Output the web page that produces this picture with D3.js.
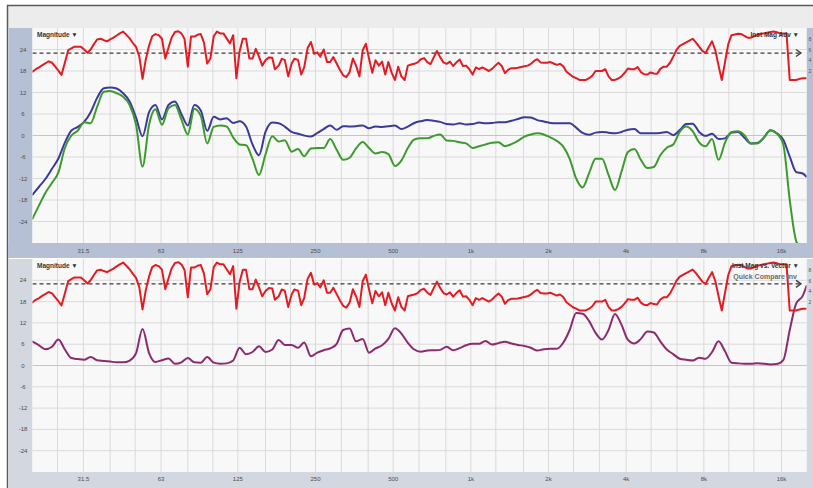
<!DOCTYPE html>
<html>
<head>
<meta charset="utf-8">
<script src="https://cdn.jsdelivr.net/npm/d3@7"></script>
<style>
  html, body { margin: 0; padding: 0; background: #fff; }
  svg { display: block; font-family: "Liberation Sans", Arial, sans-serif; }
</style>
</head>
<body>
<svg id="chart" width="813" height="488"></svg>
<script>
// 1/24-octave frequency grid (Hz) for the detailed magnitude trace
const freqFine = [
  20.0, 20.6, 21.2, 21.8, 22.4, 23.1, 23.8, 24.5, 25.2, 25.9, 26.7, 27.5, 28.3, 29.1, 30.0, 30.8, 31.7, 32.7, 33.6, 34.6, 35.6, 36.7, 37.8, 38.9,
  40.0, 41.2, 42.4, 43.6, 44.9, 46.2, 47.6, 49.0, 50.4, 51.9, 53.4, 55.0, 56.6, 58.2, 59.9, 61.7, 63.5, 65.4, 67.3, 69.2, 71.3, 73.4, 75.5, 77.7,
  80.0, 82.3, 84.8, 87.2, 89.8, 92.4, 95.1, 97.9, 100.8, 103.7, 106.8, 109.9, 113.1, 116.5, 119.9, 123.4, 127.0, 130.7, 134.5, 138.5, 142.5, 146.7, 151.0, 155.4,
  160, 165, 170, 174, 180, 185, 190, 196, 202, 207, 214, 220, 226, 233, 240, 247, 254, 261, 269, 277, 285, 293, 302, 311,
  320, 329, 339, 349, 359, 370, 381, 392, 403, 415, 427, 440, 453, 466, 479, 494, 508, 523, 538, 554, 570, 587, 604, 622,
  640, 659, 678, 698, 718, 739, 761, 783, 806, 830, 854, 879, 905, 932, 959, 987, 1016, 1046, 1076, 1108, 1140, 1174, 1208, 1244,
  1280, 1318, 1356, 1396, 1437, 1479, 1522, 1567, 1613, 1660, 1709, 1759, 1810, 1863, 1918, 1974, 2032, 2091, 2153, 2216, 2281, 2348, 2416, 2487,
  2560, 2635, 2712, 2792, 2874, 2958, 3044, 3134, 3225, 3320, 3417, 3517, 3620, 3727, 3836, 3948, 4064, 4183, 4305, 4432, 4561, 4695, 4833, 4974,
  5120, 5270, 5425, 5583, 5747, 5916, 6089, 6267, 6451, 6640, 6834, 7035, 7241, 7453, 7671, 7896, 8127, 8365, 8611, 8863, 9123, 9390, 9665, 9949,
  10240, 10540, 10849, 11167, 11494, 11831, 12178, 12535, 12902, 13280, 13669, 14069, 14482, 14906, 15343, 15792, 16255, 16731, 17222, 17726, 18246, 18780, 19331, 19897
];

// Measured magnitude (dB), red trace, shown in both panels
const redLevel = [
  17.8, 18.5, 19.0, 19.6, 20.1, 20.7, 20.3, 19.2, 18.1, 16.9, 20.3, 23.8, 24.3, 24.8, 24.8, 24.8, 24.0, 23.1, 24.0, 25.5, 26.8, 27.0, 26.6, 26.3,
  26.8, 27.3, 27.9, 28.5, 29.0, 28.1, 27.1, 25.8, 24.7, 22.0, 15.8, 21.3, 25.1, 27.7, 28.3, 28.0, 27.0, 21.5, 24.5, 27.3, 28.9, 29.1, 28.5, 26.9,
  19.2, 27.6, 27.6, 28.1, 28.3, 25.9, 20.1, 21.5, 27.7, 29.0, 28.5, 28.5, 27.1, 25.7, 28.0, 16.0, 23.5, 27.0, 27.0, 21.5, 21.5, 24.2, 22.0, 19.5,
  21.0, 21.8, 21.7, 18.5, 19.5, 21.4, 21.1, 16.5, 20.0, 21.4, 21.1, 17.0, 19.0, 24.4, 26.1, 22.8, 23.2, 22.0, 24.0, 20.5, 20.5, 21.9, 20.1, 18.3,
  16.8, 16.3, 17.7, 21.5, 19.5, 16.5, 23.8, 25.6, 21.5, 17.5, 21.0, 19.5, 20.6, 17.0, 20.5, 17.4, 15.5, 19.2, 16.5, 15.5, 19.5, 19.8, 20.0, 20.4,
  21.3, 21.6, 20.5, 19.9, 21.8, 23.6, 21.8, 20.4, 20.0, 20.6, 19.4, 20.4, 21.2, 19.4, 19.5, 18.5, 17.0, 19.0, 18.5, 19.0, 18.5, 18.0, 18.6, 19.5,
  20.3, 19.4, 17.4, 18.4, 18.8, 18.8, 18.9, 19.1, 19.3, 19.5, 20.0, 20.8, 21.3, 20.4, 20.3, 20.3, 20.5, 20.1, 19.7, 20.0, 19.3, 17.8, 17.1, 16.4,
  16.0, 15.5, 15.5, 15.5, 16.0, 16.7, 18.0, 18.0, 18.0, 18.5, 16.5, 15.5, 15.5, 15.9, 16.5, 17.5, 18.7, 18.5, 18.5, 19.1, 17.7, 17.1, 17.0, 17.6,
  17.3, 17.2, 18.6, 19.2, 19.2, 20.3, 22.0, 23.9, 25.0, 25.5, 26.0, 26.5, 27.0, 26.0, 24.8, 23.6, 23.0, 24.7, 26.3, 23.8, 19.5, 15.5, 20.5, 25.5,
  28.0, 28.2, 28.4, 28.3, 27.8, 27.3, 27.3, 27.7, 28.1, 28.3, 28.5, 28.7, 28.9, 29.0, 28.8, 28.5, 28.5, 28.5, 15.5, 15.5, 15.5, 15.8, 16.0, 16.0
];

// 1/12-octave frequency grid (Hz) for the smoothed traces
const freqSmooth = [
  20.0, 21.2, 22.4, 23.8, 25.2, 26.7, 28.3, 30.0, 31.7, 33.6, 35.6, 37.8,
  40.0, 42.4, 44.9, 47.6, 50.4, 53.4, 56.6, 59.9, 63.5, 67.3, 71.3, 75.5,
  80.0, 84.8, 89.8, 95.1, 100.8, 106.8, 113.1, 119.9, 127.0, 134.5, 142.5, 151.0,
  160, 170, 180, 190, 202, 214, 226, 240, 254, 269, 285, 302,
  320, 339, 359, 381, 403, 427, 453, 479, 508, 538, 570, 604,
  640, 678, 718, 761, 806, 854, 905, 959, 1016, 1076, 1140, 1208,
  1280, 1356, 1437, 1522, 1613, 1709, 1810, 1918, 2032, 2153, 2281, 2416,
  2560, 2712, 2874, 3044, 3225, 3417, 3620, 3836, 4064, 4305, 4561, 4833,
  5120, 5425, 5747, 6089, 6451, 6834, 7241, 7671, 8127, 8611, 9123, 9665,
  10240, 10849, 11494, 12178, 12902, 13669, 14482, 15343, 16255, 17222, 18246, 19331,
  20000
];

// Upper panel: blue trace (dB)
const blueLevel = [
  -16.5, -14.3, -12.2, -9.3, -6.4, -2.0, 1.4, 2.4, 3.8, 6.5, 10.5, 13.2,
  13.4, 13.1, 11.8, 9.5, 5.0, -0.2, 6.5, 8.5, 4.5, 8.5, 9.5, 6.0,
  2.8, 8.5, 7.0, 1.3, 5.2, 4.5, 4.8, 3.5, 4.0, 2.5, -2.5, -5.5,
  1.0, 3.6, 3.4, 2.5, 1.0, 0.5, 0.0, -0.3, 0.7, 1.8, 2.8, 1.6,
  2.6, 2.5, 2.6, 2.8, 2.0, 2.5, 2.4, 2.6, 2.8, 1.8, 2.5, 3.5,
  4.0, 4.3, 4.1, 3.8, 3.2, 3.1, 3.4, 3.1, 3.2, 3.6, 3.4, 3.5,
  3.7, 3.7, 4.1, 4.6, 5.1, 5.0, 4.3, 3.9, 3.5, 3.4, 3.4, 3.4,
  2.2, 0.7, 0.2, 0.8, 1.0, 0.8, 0.6, 1.0, 1.6, 1.8, 0.6, 0.6,
  0.6, 0.7, 1.0, 0.1, 1.5, 3.2, 3.3, 1.0, -0.1, 0.5, -1.0, -0.8,
  0.8, 1.0, -0.6, -2.2, -2.1, -0.6, 1.5, 0.6, -1.2, -5.9, -10.2, -10.6,
  -11.5
];

// Upper panel: green trace (dB)
const greenLevel = [
  -23.2, -19.5, -16.1, -13.2, -10.3, -3.5, 0.0, 1.4, 3.7, 3.4, 8.0, 12.2,
  12.4, 11.8, 10.8, 8.5, 3.0, -8.7, 3.0, 7.3, 3.0, 7.6, 8.5, 4.5,
  0.3, 7.5, 5.5, -2.2, 2.4, 2.8, 2.5, -0.5, -2.5, -2.7, -6.5, -11.0,
  -5.3, -0.2, -1.7, -1.3, -4.5, -3.8, -5.8, -3.6, -3.5, -3.5, -1.0, -4.0,
  -6.8, -6.2, -3.6, -1.8, -3.5, -5.0, -4.6, -5.2, -8.5, -7.0, -3.5, -1.1,
  -0.8, -0.8, -0.1, 0.3, -1.4, -1.5, -1.9, -2.2, -3.5, -3.0, -2.5, -2.0,
  -1.9, -3.0, -2.4, -1.5, -0.3, 0.3, 0.6, 0.3, -0.5, -1.5, -3.1, -6.5,
  -12.0, -14.5, -10.5, -6.5, -6.5, -11.0, -15.2, -10.1, -4.6, -3.8, -6.8, -9.1,
  -8.8, -5.5, -3.4, -2.5, 1.0, 2.5, 1.2, -1.9, -3.0, -1.0, -6.8, -2.0,
  1.0, 1.2, 0.1, -2.2, -2.2, -0.6, 1.5, 0.6, -2.5, -18.0, -29.5, -32.0,
  -33.0
];

// Lower panel: purple trace (dB)
const purpleLevel = [
  6.7, 5.7, 4.6, 5.3, 7.3, 4.5, 2.1, 1.8, 1.6, 2.4, 1.5, 1.3,
  1.1, 0.9, 0.9, 1.4, 3.5, 10.3, 3.5, 1.0, 1.5, 2.0, 0.5, 0.9,
  2.1, 0.9, 0.8, 2.4, 0.8, 0.5, 0.6, 1.4, 5.0, 3.2, 3.8, 5.4,
  3.8, 4.5, 7.2, 5.8, 5.8, 5.0, 6.5, 2.6, 3.6, 4.3, 4.8, 6.1,
  10.0, 10.4, 6.8, 7.5, 3.6, 4.8, 5.7, 7.5, 10.5, 9.0, 6.4, 4.5,
  3.9, 4.2, 4.3, 4.4, 5.3, 4.3, 4.9, 5.7, 6.1, 6.1, 6.9, 5.9,
  6.3, 6.7, 6.2, 5.8, 5.5, 5.0, 4.2, 4.6, 4.7, 4.7, 6.4, 10.0,
  14.8, 14.6, 12.5, 9.2, 7.3, 10.0, 14.5, 11.5, 7.2, 6.2, 7.5, 9.6,
  9.3, 6.8, 4.5, 3.2, 1.9, 1.6, 1.4, 2.2, 1.9, 3.8, 6.8, 4.0,
  0.8, 0.6, 0.5, 0.5, 0.6, 0.5, 0.3, 0.4, 1.5, 10.0, 17.5, 19.6,
  22.4
];

const targetLevel = 23;                      // dashed reference line (dB)
const dbTicks = [24, 18, 12, 6, 0, -6, -12, -18, -24];
const freqTicks = [31.5, 63, 125, 250, 500, 1000, 2000, 4000, 8000, 16000];
const freqTickLabels = ["31.5", "63", "125", "250", "500", "1k", "2k", "4k", "8k", "16k"];
const thirdOctaveGrid = [25, 31.5, 40, 50, 63, 80, 100, 125, 160, 200, 250, 315, 400, 500, 630, 800,
  1000, 1250, 1600, 2000, 2500, 3150, 4000, 5000, 6300, 8000, 10000, 12500, 16000];
const sideTicks = ["8", "6", "4", "2"];

const svg = d3.select("#chart");
const W = 813, H = 488;
const plotLeft = 32.5, plotRight = 806.5;
const x = d3.scaleLog().domain([20, 20000]).range([plotLeft, plotRight]);

// window chrome
svg.append("rect").attr("x", 0).attr("y", 0).attr("width", W).attr("height", H).attr("fill", "#ffffff");
svg.append("rect").attr("x", 8).attr("y", 6).attr("width", W - 8).attr("height", 22).attr("fill", "#ececec");
svg.append("line").attr("x1", 7).attr("x2", W).attr("y1", 5.5).attr("y2", 5.5).attr("stroke", "#5a5a5a").attr("stroke-width", 1.5);
svg.append("line").attr("x1", 7.5).attr("x2", 7.5).attr("y1", 5).attr("y2", H).attr("stroke", "#5a5a5a").attr("stroke-width", 1.5);

const panels = [
  {
    top: 28, bottom: 243, stripBottom: 258, chrome: "#b6c0d4", labelY: 253,
    traces: [
      { f: freqSmooth, v: blueLevel, color: "#3a3a9c", smooth: true },
      { f: freqSmooth, v: greenLevel, color: "#3d9a2e", smooth: true },
      { f: freqFine, v: redLevel, color: "#e31b23", smooth: false }
    ],
    rightTitle: "Inst Mag Adv \u25BC", subtitle: null
  },
  {
    top: 259, bottom: 472, stripBottom: 488, chrome: "#d3d7df", labelY: 481,
    traces: [
      { f: freqSmooth, v: purpleLevel, color: "#8c2a6e", smooth: true },
      { f: freqFine, v: redLevel, color: "#e31b23", smooth: false }
    ],
    rightTitle: "Inst Mag vs. Vector \u25BC", subtitle: "Quick Compare Inv"
  }
];

panels.forEach((p, i) => {
  const y = d3.scaleLinear().domain([-30, 30]).range([p.bottom, p.top]);
  const g = svg.append("g");

  // side bars and frequency strip
  g.append("rect").attr("x", 8.5).attr("y", p.top).attr("width", plotLeft - 8.5).attr("height", p.stripBottom - p.top).attr("fill", p.chrome);
  g.append("rect").attr("x", 8.5).attr("y", p.bottom).attr("width", W - 8.5).attr("height", p.stripBottom - p.bottom).attr("fill", p.chrome);
  g.append("rect").attr("x", plotRight).attr("y", p.top).attr("width", W - plotRight).attr("height", p.bottom - p.top).attr("fill", p.chrome);

  // plot background
  g.append("rect").attr("x", plotLeft).attr("y", p.top).attr("width", plotRight - plotLeft).attr("height", p.bottom - p.top).attr("fill", "#f8f8f8");

  // grid
  g.append("g").selectAll("line").data(thirdOctaveGrid).join("line")
    .attr("x1", d => x(d)).attr("x2", d => x(d)).attr("y1", p.top).attr("y2", p.bottom)
    .attr("stroke", "#dadada").attr("stroke-width", 1);
  g.append("g").selectAll("line").data(dbTicks).join("line")
    .attr("x1", plotLeft).attr("x2", plotRight).attr("y1", d => y(d)).attr("y2", d => y(d))
    .attr("stroke", d => d === 0 ? "#c4c4c4" : "#dadada").attr("stroke-width", 1);

  // axis labels
  g.append("g").selectAll("text").data(dbTicks).join("text")
    .attr("x", 23).attr("y", d => y(d) + 2).attr("text-anchor", "middle")
    .attr("font-size", 6).attr("fill", "#4d4d4d").text(d => d);
  g.append("g").selectAll("text").data(freqTicks).join("text")
    .attr("x", d => x(d)).attr("y", p.labelY).attr("text-anchor", "middle")
    .attr("font-size", 6).attr("fill", "#4d4d4d").text((d, k) => freqTickLabels[k]);
  g.append("g").selectAll("text").data(sideTicks).join("text")
    .attr("x", 810).attr("y", (d, k) => p.top + 13 + k * 10.5).attr("text-anchor", "middle")
    .attr("font-size", 5).attr("fill", "#555").text(d => d);

  // traces
  const clipId = "clip" + i;
  svg.append("clipPath").attr("id", clipId).append("rect")
    .attr("x", plotLeft).attr("y", p.top).attr("width", plotRight - plotLeft).attr("height", p.bottom - p.top);
  const plot = g.append("g").attr("clip-path", `url(#${clipId})`);

  // dashed target level with arrow head
  plot.append("line").attr("x1", plotLeft).attr("x2", 800).attr("y1", y(targetLevel)).attr("y2", y(targetLevel))
    .attr("stroke", "#3a3a3a").attr("stroke-width", 1.4).attr("stroke-dasharray", "4,3");
  plot.append("path")
    .attr("d", `M${796},${y(targetLevel) - 3.5} L${801},${y(targetLevel)} L${796},${y(targetLevel) + 3.5}`)
    .attr("fill", "none").attr("stroke", "#3a3a3a").attr("stroke-width", 1.3);

  p.traces.forEach(t => {
    const line = d3.line()
      .x((d, k) => x(t.f[k]))
      .y(d => y(d))
      .curve(t.smooth ? d3.curveMonotoneX : d3.curveLinear);
    plot.append("path").datum(t.v).attr("d", line)
      .attr("fill", "none").attr("stroke", t.color).attr("stroke-width", 2)
      .attr("stroke-linejoin", "round").attr("stroke-linecap", "round");
  });

  // titles
  g.append("text").attr("x", 37).attr("y", p.top + 9).attr("font-size", 6.5).attr("font-weight", "bold")
    .attr("fill", "#333").text("Magnitude \u25BC");
  g.append("text").attr("x", 799).attr("y", p.top + 9).attr("text-anchor", "end").attr("font-size", 6.5)
    .attr("font-weight", "bold").attr("fill", "#333").text(p.rightTitle);
  if (p.subtitle) {
    g.append("text").attr("x", 797).attr("y", p.top + 20).attr("text-anchor", "end").attr("font-size", 7)
      .attr("font-weight", "bold").attr("fill", "#6b6b6b").text(p.subtitle);
  }
});
</script>
</body>
</html>
